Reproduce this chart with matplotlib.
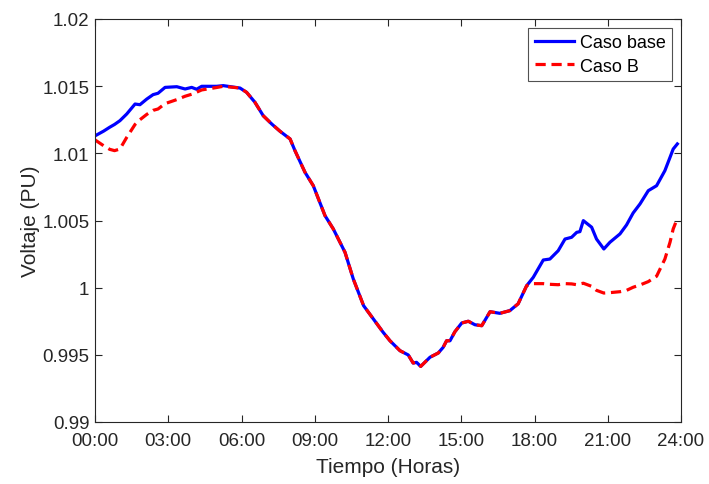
import matplotlib
matplotlib.use("Agg")
import matplotlib.pyplot as plt

hours = [0, 0.35, 0.6, 0.8, 1.02, 1.3, 1.64, 1.84, 2.12, 2.38, 2.58, 2.87, 3.35, 3.69,
         3.96, 4.16, 4.37, 4.98, 5.25, 5.94, 6.21, 6.55, 6.89, 7.24, 7.58, 7.99, 8.19,
         8.6, 8.94, 9.42, 9.76, 10.24, 10.58, 11.0, 11.4, 11.8, 12.08, 12.49, 12.83,
         13.03, 13.17, 13.34, 13.72, 14.06, 14.26, 14.40, 14.54, 14.74, 15.02, 15.29,
         15.56, 15.84, 16.18, 16.58, 16.99, 17.33, 17.68, 17.95, 18.36, 18.63, 18.97,
         19.25, 19.52, 19.73, 19.86, 20.0, 20.34, 20.54, 20.84, 21.09, 21.5, 21.77,
         22.04, 22.32, 22.66, 23.0, 23.34, 23.55, 23.68, 23.85]

caso_base = [1.01130, 1.01165, 1.01194, 1.01215, 1.01243, 1.01293, 1.01367, 1.01362,
             1.01404, 1.01437, 1.01447, 1.01491, 1.01496, 1.01479, 1.01491, 1.01477,
             1.01499, 1.01499, 1.01504, 1.01486, 1.01454, 1.01380, 1.01280, 1.01218,
             1.01164, 1.01107, 1.01020, 1.00859, 1.00759, 1.00536, 1.00437, 1.00263,
             1.00064, 0.99866, 0.99767, 0.99668, 0.99605, 0.99531, 0.99499, 0.99439,
             0.99444, 0.99414, 0.99482, 0.99514, 0.99556, 0.99605, 0.99605, 0.99672,
             0.99737, 0.99750, 0.99724, 0.99717, 0.99821, 0.99809, 0.99829, 0.99880,
             1.00015, 1.00077, 1.00206, 1.00213, 1.00275, 1.00362, 1.00375, 1.00412,
             1.00417, 1.00499, 1.00450, 1.00362, 1.00288, 1.00338, 1.00400, 1.00467,
             1.00556, 1.00623, 1.00722, 1.00759, 1.00871, 1.00970, 1.01032, 1.01070]

caso_b = [1.01100, 1.01057, 1.01030, 1.01020, 1.01032, 1.01119, 1.01215, 1.01250,
          1.01290, 1.01320, 1.01330, 1.01370, 1.01400, 1.01425, 1.01440, 1.01455,
          1.01472, 1.01490, 1.01499, 1.01486, 1.01454, 1.01380, 1.01280, 1.01218,
          1.01164, 1.01107, 1.01020, 1.00859, 1.00759, 1.00536, 1.00437, 1.00263,
          1.00064, 0.99866, 0.99767, 0.99668, 0.99605, 0.99531, 0.99499, 0.99439,
          0.99444, 0.99414, 0.99482, 0.99514, 0.99556, 0.99605, 0.99605, 0.99672,
          0.99737, 0.99750, 0.99724, 0.99717, 0.99821, 0.99809, 0.99829, 0.99880,
          1.00015, 1.00030, 1.00030, 1.00025, 1.00022, 1.00030, 1.00028, 1.00022,
          1.00028, 1.00033, 1.00010, 0.99980, 0.99960, 0.99963, 0.99970, 0.99980,
          1.00003, 1.00020, 1.00045, 1.00085, 1.00213, 1.00338, 1.00437, 1.00515]

x_ticks = [0, 3, 6, 9, 12, 15, 18, 21, 24]
x_labels = ["00:00", "03:00", "06:00", "09:00", "12:00", "15:00", "18:00", "21:00", "24:00"]
y_ticks = [0.99, 0.995, 1.0, 1.005, 1.01, 1.015, 1.02]
y_labels = ["0.99", "0.995", "1", "1.005", "1.01", "1.015", "1.02"]

plt.rcParams['font.family'] = ['Liberation Sans', 'DejaVu Sans']
fig = plt.figure(figsize=(7.09, 4.85), dpi=100)
ax = fig.add_axes([95/709, 1-423/485, (681-95)/709, (423-20)/485])

ax.plot(hours, caso_base, color=(0, 0, 1), lw=2.3, label="Caso base")
ax.plot(hours, caso_b, color=(1, 0, 0), lw=2.3, ls=(0, (3.2, 1.8)), label="Caso B")

ax.set_xlim(0, 24)
ax.set_ylim(0.99, 1.02)
ax.set_xticks(x_ticks)
ax.set_xticklabels(x_labels)
ax.set_yticks(y_ticks)
ax.set_yticklabels(y_labels)

dark = (0.15, 0.15, 0.15)
for s in ax.spines.values():
    s.set_color(dark)
    s.set_linewidth(0.8)
ax.tick_params(direction='in', length=5, width=0.8, colors=dark, labelsize=13.5,
               top=True, right=True)
ax.tick_params(axis='x', pad=7)
ax.tick_params(axis='y', pad=4)
ax.set_xlabel("Tiempo (Horas)", fontsize=15, color=dark, labelpad=6)
ax.set_ylabel("Voltaje (PU)", fontsize=15, color=dark, labelpad=2)

leg = ax.legend(loc='upper right', fontsize=13, frameon=True, fancybox=False,
                edgecolor=dark, handlelength=2.2, handletextpad=0.3,
                borderpad=0.35, labelspacing=0.35, borderaxespad=0.5)
leg.get_frame().set_linewidth(0.8)

fig.savefig("out.png", dpi=100)
